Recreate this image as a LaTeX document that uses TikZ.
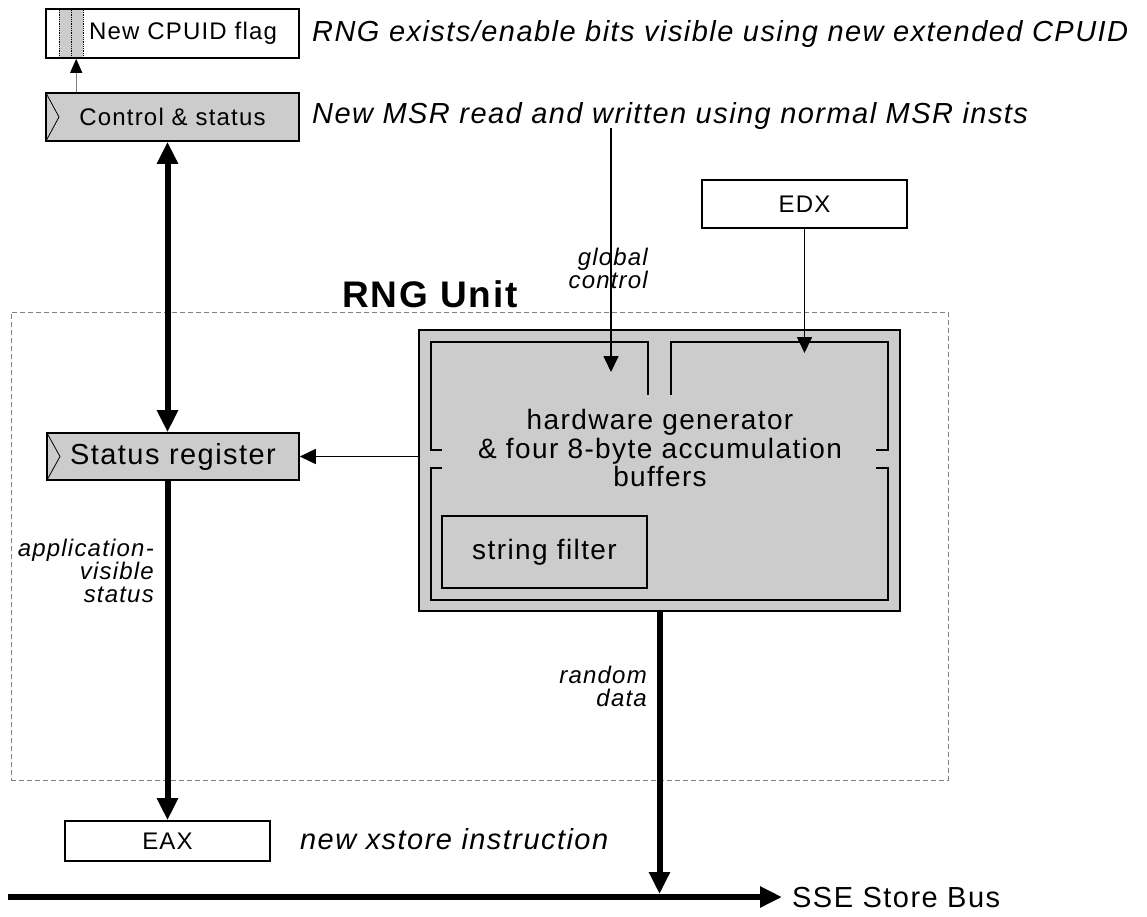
\documentclass[tikz,border=0pt]{standalone}
\usepackage{fontspec}
\setmainfont{Liberation Sans}[LetterSpace=5]
\usepackage{xcolor}
\usepackage{tikz}
\usetikzlibrary{arrows.meta,calc}
\definecolor{rnggray}{HTML}{CCCCCC}
\definecolor{rngdash}{HTML}{808080}

\begin{document}
\begin{tikzpicture}[
    x=1pt,y=-1pt,
    reg/.style  = {rectangle,draw,line width=1.6pt,fill=white,inner sep=0pt,
                   font=\fontsize{24}{26}\selectfont,minimum width=253pt,
                   minimum height=48pt},
    greg/.style = {reg,fill=rnggray,path picture={\draw[line width=0.8pt]
                   (path picture bounding box.north west) --
                   ($(path picture bounding box.west)+(13pt,0pt)$) --
                   (path picture bounding box.south west);}},
    note/.style = {anchor=west,inner sep=0pt,font=\fontsize{29}{32}\selectfont\itshape},
    lbl/.style  = {anchor=east,align=right,inner sep=0pt,
                   font=\fontsize{24}{23}\selectfont\itshape},
    thk/.style  = {line width=6pt,>={Triangle[length=22pt,width=20pt]}},
    thn/.style  = {line width=1.6pt,>={Triangle[length=16pt,width=15pt]}},
  ]
  \useasboundingbox (0,0) rectangle (1147,916);

  % registers
  \node[reg,minimum height=49pt] (cpuid) at (172.5,33.5) {\hspace*{21pt}New CPUID flag};
  \fill[rnggray] (59,10) rectangle (83,57);
  \foreach \x in {59,71,83} \draw[densely dotted,line width=0.8pt] (\x,10) -- (\x,57);
  \node[greg] (ctrl) at (172.5,117) {Control \& status};
  \node[greg,minimum width=252pt,minimum height=47pt,
        font=\fontsize{29}{31}\selectfont] (status) at (173,456.5) {Status register};
  \node[reg,minimum width=205pt] (edx) at (804.5,204) {EDX};
  \node[reg,minimum width=205pt,minimum height=40pt] (eax) at (167.5,841) {EAX};

  \node[note] (flagnote) at (312,34) {RNG exists/enable bits visible using new extended CPUID};
  \node[note] (msrnote) at (312,116) {New MSR read and written using normal MSR insts};
  \node[note] (xstorenote) at (300,839) {new xstore instruction};

  % RNG unit
  \node[draw=rngdash,line width=1pt,dash pattern=on 5pt off 3pt,
        minimum width=937pt,minimum height=468pt] (unit) at (479.5,546) {};
  \node[font=\fontsize{37}{40}\selectfont\bfseries] (unitname) at (430,294) {RNG Unit};

  \node[draw,fill=rnggray,line width=1.8pt,minimum width=481pt,
        minimum height=281pt] (gen) at (659.5,470.5) {};
  \draw[line width=1.8pt] (442,450) -- (431,450) -- (431,342) -- (648,342) -- (648,395);
  \draw[line width=1.8pt] (671,395) -- (671,342) -- (888,342) -- (888,450) -- (876,450);
  \draw[line width=1.8pt] (442,468) -- (431,468) -- (431,600) -- (888,600)
                          -- (888,468) -- (876,468);
  \node[align=center,font=\fontsize{28}{28.3}\selectfont] (hw) at (660,448)
       {hardware generator\\\& four 8-byte accumulation\\buffers};
  \node[draw,fill=rnggray,line width=1.6pt,minimum width=205pt,minimum height=72pt,
        font=\fontsize{28}{30}\selectfont] (filter) at (544.5,552) {string filter};

  % bus
  \coordinate (busL) at (8,897);
  \coordinate (busR) at (782,897);
  \draw[thk,->] (busL) -- (busR);
  \node[anchor=west,inner sep=0pt,font=\fontsize{29}{31}\selectfont] (sse) at (792,897)
       {SSE Store Bus};

  % connectors
  \coordinate (msrin) at (611,128);
  \coordinate (gctip) at (611,372);
  \coordinate (edxtip) at (804.5,353);
  \draw[thk,<->] (ctrl.south -| eax) -- (status.north -| eax);
  \draw[thk,->] (status.south -| eax) -- (eax.north);
  \draw[thk,->,shorten >=3pt] (gen.south) -- (gen.south |- busL);
  \draw[thn,->] (gen.west |- status.east) -- (status.east);
  \foreach \a/\b in {msrin/gctip,edx.south/edxtip} \draw[thn,->] (\a) -- (\b);
  \draw[line width=1.2pt,rngdash,-{Triangle[length=14pt,width=12pt,black]}]
       ([xshift=31pt]ctrl.north west) -- ([xshift=31pt]cpuid.south west);

  \node[lbl] (gclbl) at (648,268) {global\\control};
  \node[lbl] (avlbl) at (154,571) {application-\\visible\\status};
  \node[lbl] (rdlbl) at (647,686) {random\\data};

\end{tikzpicture}
\end{document}
